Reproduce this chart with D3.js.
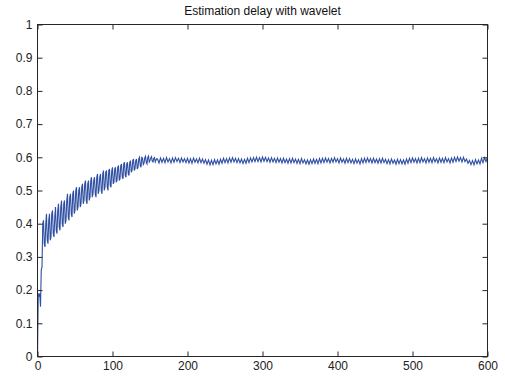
<!DOCTYPE html>
<html>
<head>
<meta charset="utf-8">
<script src="https://cdn.jsdelivr.net/npm/d3@7"></script>
<style>
  body { margin: 0; background: #fff; }
  svg { display: block; }
</style>
</head>
<body>
<div id="chart"></div>
<script>
// samples 0..159, one per step (fast oscillating ramp)
const rampDelay = [0, .19, .18, .19, .15, .26, .27,
  .40, .41, .34, .33, .40, .43, .35, .34, .41, .43, .35, .36,
  .43, .44, .37, .36, .42, .45, .38, .37, .44, .46, .39, .38,
  .45, .47, .40, .39, .46, .47, .40, .41, .47, .49, .42, .41,
  .48, .49, .43, .42, .49, .50, .43, .44, .50, .51, .44, .45,
  .50, .51, .45, .46, .51, .52, .46, .47, .52, .53, .47, .46,
  .52, .53, .47, .48, .53, .54, .48, .49, .53, .54, .49, .48,
  .54, .55, .49, .50, .54, .55, .50, .49, .55, .56, .50, .51,
  .555, .56, .51, .50, .56, .565, .515, .51, .56, .57, .52, .525,
  .565, .57, .525, .53, .57, .575, .53, .535, .575, .58, .54, .535,
  .58, .585, .545, .54, .58, .585, .55, .545, .585, .59, .555, .56,
  .59, .595, .56, .565, .59, .595, .565, .57, .595, .60, .575, .57,
  .60, .598, .578, .582, .598, .603, .585, .58, .60, .604, .586, .59,
  .598, .602, .588, .586, .597, .599, .586, .592, .596];
// samples 160..600, every 2nd step (steady part)
const steadyStart = 160;
const steadyStep = 2;
const steadyDelay = [
  .595,.583,.598,.585,.597,.584,.599,.586,.596,.583,
  .598,.585,.599,.587,.597,.584,.598,.586,.596,.584,
  .597,.583,.596,.582,.598,.585,.595,.583,.597,.584,
  .595,.582,.593,.579,.592,.577,.591,.578,.593,.580,
  .592,.579,.594,.582,.597,.584,.596,.583,.598,.585,
  .599,.586,.597,.584,.596,.583,.595,.581,.594,.582,
  .597,.584,.598,.586,.599,.587,.600,.587,.599,.586,
  .601,.588,.600,.587,.598,.585,.599,.586,.597,.584,
  .598,.585,.596,.583,.597,.584,.595,.582,.596,.583,
  .597,.584,.595,.582,.594,.581,.596,.583,.593,.580,
  .592,.579,.593,.581,.595,.582,.594,.581,.596,.583,
  .597,.584,.598,.585,.596,.583,.597,.585,.599,.586,
  .596,.583,.598,.585,.595,.582,.597,.584,.596,.583,
  .594,.581,.595,.583,.593,.580,.596,.583,.597,.584,
  .598,.585,.596,.583,.597,.584,.595,.582,.596,.583,
  .597,.584,.594,.581,.593,.580,.595,.582,.592,.579,
  .594,.581,.593,.580,.592,.579,.595,.582,.597,.584,
  .598,.585,.596,.583,.597,.584,.599,.586,.596,.583,
  .598,.585,.597,.584,.599,.586,.596,.583,.598,.585,
  .597,.584,.599,.586,.596,.583,.598,.585,.600,.587,
  .601,.588,.599,.586,.600,.587,.595,.582,.591,.578,
  .590,.577,.593,.580,.592,.580,.597,.584,.599,.587,
  .600];
const xTicks = [0, 100, 200, 300, 400, 500, 600];
const yTicks = [0, .1, .2, .3, .4, .5, .6, .7, .8, .9, 1];
const title = "Estimation delay with wavelet";

const width = 505, height = 377;
const plotLeft = 37.5, plotRight = 487.5, plotTop = 24.5, plotBottom = 356.5;
const axisColor = "#262626";

const svg = d3.select("#chart").append("svg")
  .attr("width", width)
  .attr("height", height);

const x = d3.scaleLinear().domain([0, 600]).range([plotLeft, plotRight]);
const y = d3.scaleLinear().domain([0, 1]).range([plotBottom, plotTop]);

const points = rampDelay.map((v, i) => [i, v])
  .concat(steadyDelay.map((v, i) => [steadyStart + i * steadyStep, v]));

// signal
svg.append("path")
  .datum(points)
  .attr("fill", "none")
  .attr("stroke", "#2f4fa3")
  .attr("stroke-width", 1.1)
  .attr("d", d3.line().x(d => x(d[0])).y(d => y(d[1])));

function styleAxis(g) {
  g.select(".domain").remove();
  g.selectAll(".tick line").attr("stroke", axisColor);
  g.selectAll(".tick text")
    .attr("fill", "#222")
    .style("font-family", "Liberation Sans, Arial, sans-serif")
    .style("font-size", "12px");
}

svg.append("g").attr("transform", "translate(0," + plotBottom + ")")
  .call(d3.axisBottom(x).tickValues(xTicks).tickSizeInner(-5).tickSizeOuter(0).tickPadding(5))
  .call(styleAxis);
svg.append("g").attr("transform", "translate(0," + plotTop + ")")
  .call(d3.axisTop(x).tickValues(xTicks).tickSizeInner(-5).tickSizeOuter(0).tickFormat(""))
  .call(styleAxis);
svg.append("g").attr("transform", "translate(" + plotLeft + ",0)")
  .call(d3.axisLeft(y).tickValues(yTicks).tickSizeInner(-5).tickSizeOuter(0).tickPadding(5).tickFormat(d3.format("")))
  .call(styleAxis);
svg.append("g").attr("transform", "translate(" + plotRight + ",0)")
  .call(d3.axisRight(y).tickValues(yTicks).tickSizeInner(-5).tickSizeOuter(0).tickFormat(""))
  .call(styleAxis);

// frame
svg.append("rect")
  .attr("x", plotLeft).attr("y", plotTop)
  .attr("width", plotRight - plotLeft).attr("height", plotBottom - plotTop)
  .attr("fill", "none")
  .attr("stroke", axisColor)
  .attr("stroke-width", 1);

svg.append("text")
  .attr("x", (plotLeft + plotRight) / 2)
  .attr("y", 15)
  .attr("text-anchor", "middle")
  .style("font-family", "Liberation Sans, Arial, sans-serif")
  .style("font-size", "12px")
  .attr("fill", "#111")
  .text(title);
</script>
</body>
</html>
